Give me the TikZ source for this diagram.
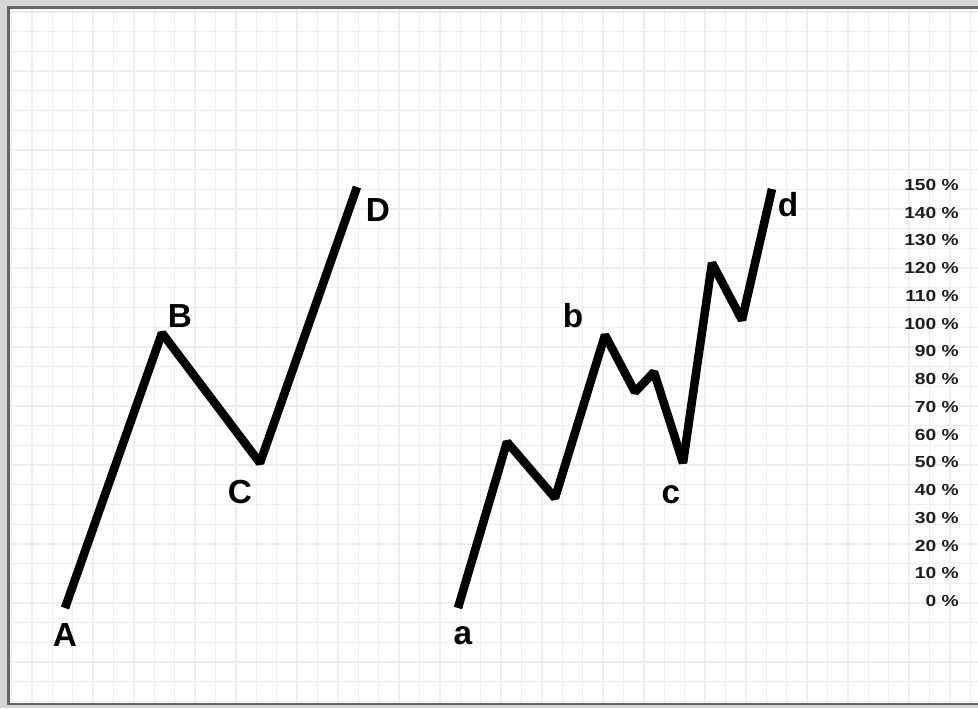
\documentclass[tikz,border=0pt]{standalone}
\usepackage{fontspec}
\setmainfont{Liberation Sans}
\usepackage{graphicx}
\definecolor{gridgray}{RGB}{238,238,238}
\definecolor{framegray}{RGB}{100,100,100}
\definecolor{edgegray}{RGB}{214,214,214}
\definecolor{textgray}{RGB}{30,30,30}
\begin{document}
\begin{tikzpicture}[x=0.75pt, y=-0.75pt,
  wave/.style={line width=6.4pt, line join=bevel},
  letter/.style={font=\fontsize{25}{25}\selectfont\bfseries, inner sep=0pt},
  pct/.style={font=\fontsize{12}{12}\selectfont\bfseries, text=textgray, anchor=east, inner sep=0pt}]
  \useasboundingbox (0,0) rectangle (978,708);

  % Paper and grid
  \fill[edgegray] (0,0) rectangle (978,708);
  \fill[white] (8,7) rectangle (978,704);
  \begin{scope}
    \clip (8,7) rectangle (978,704);
    \foreach \gx in {0,...,47} \draw[gridgray, line width=1pt] ({11.5+20.4*\gx},0) -- ++(0,708);
    \foreach \gy in {0,...,35} \draw[gridgray, line width=1pt] (0,{12+19.7*\gy}) -- ++(978,0);
  \end{scope}
  \draw[framegray, line width=2pt] (978,7.5) -- (8.5,7.5) -- (8.5,704) -- (978,704);

  % Big wave
  \coordinate (A) at (65,608);
  \coordinate (B) at (162,333);
  \coordinate (C) at (260,463);
  \coordinate (D) at (357,187);
  \draw[wave] (A) -- (B) -- (C) -- (D);

  % Wave broken into sub-waves
  \coordinate (a) at (458,608);
  \coordinate (w1) at (507,442);
  \coordinate (w2) at (555,498);
  \coordinate (b) at (605,335);
  \coordinate (w3) at (635,392);
  \coordinate (w4) at (654,372);
  \coordinate (c) at (683,463);
  \coordinate (w5) at (712,263);
  \coordinate (w6) at (742,320);
  \coordinate (d) at (772,189);
  \draw[wave] (a) -- (w1) -- (w2) -- (b) -- (w3) -- (w4) -- (c) -- (w5) -- (w6) -- (d);

  % Labels
  \node[letter] (labA) at (65,635) {A};
  \node[letter] (labB) at (180,316) {B};
  \node[letter] (labC) at (240,492) {C};
  \node[letter] (labD) at (378,210) {D};
  \node[letter] (laba) at (463,636) {a};
  \node[letter] (labb) at (573,316) {b};
  \node[letter] (labc) at (671,495) {c};
  \node[letter] (labd) at (788,205) {d};

  % Percent scale
  \foreach \p [count=\i from 0] in {150,140,...,0}
    \node[pct] (p\p) at (959,{185+\i*27.73}) {\scalebox{1.2}[1]{\p\ \%}};
\end{tikzpicture}
\end{document}
